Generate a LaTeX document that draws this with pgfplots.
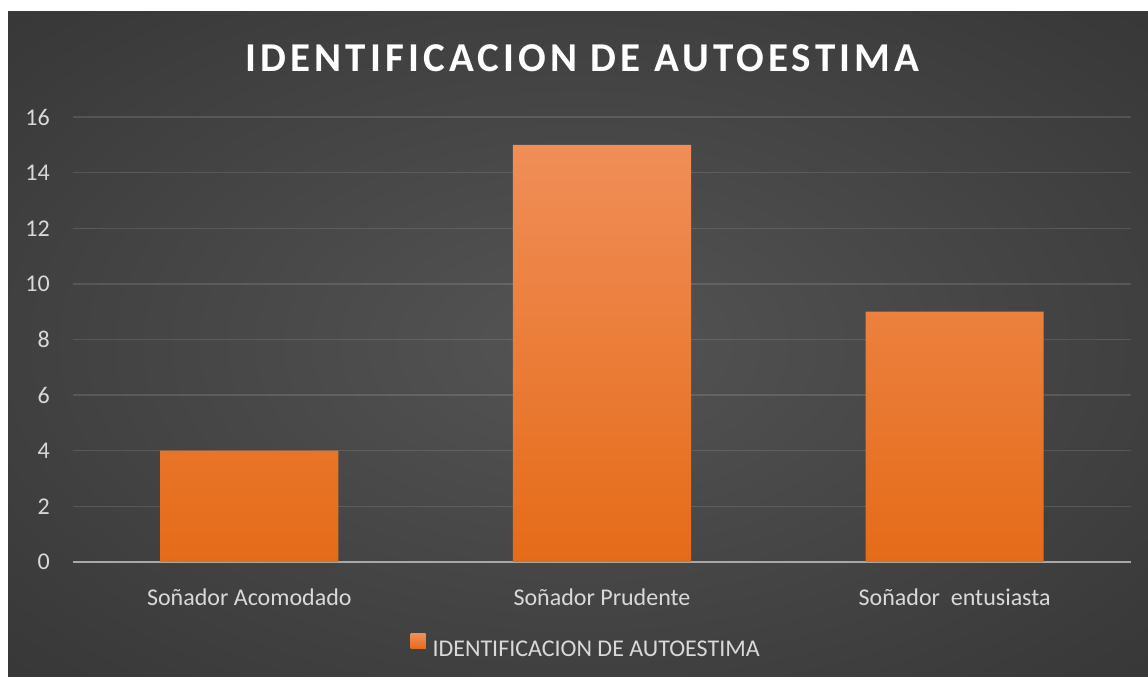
\documentclass[border=0pt]{standalone}
\usepackage{fontspec}
\setmainfont{Carlito}
\usepackage{pgfplots}
\pgfplotsset{compat=1.18}

\definecolor{barTop}{HTML}{F08E58}
\definecolor{barMid}{HTML}{F57E2B}
\definecolor{barBot}{HTML}{E56B18}
\definecolor{tickc}{HTML}{D9D9D9}
\definecolor{axisc}{HTML}{A8A8A8}
\definecolor{bgA}{HTML}{545454}
\definecolor{bgB}{HTML}{3A3A3A}
\definecolor{bgC}{HTML}{202020}
\pgfdeclareradialshading{bgshade}{\pgfpoint{0bp}{0bp}}{color(0bp)=(bgA); color(32bp)=(bgB); color(71bp)=(bgC)}

\begin{document}
\begin{tikzpicture}[x=1pt,y=1pt]
\useasboundingbox (0,0) rectangle (1148,677);
\fill[white] (0,0) rectangle (1148,677);
\shade[shading=bgshade] (8,0) rectangle (1148,665);
\begin{axis}[
  at={(73pt,115pt)}, anchor=south west,
  scale only axis, width=1058pt, height=445pt,
  xmin=-0.5, xmax=2.5, ymin=0, ymax=16,
  ytick={0,2,...,16},
  xtick={0,1,2},
  xticklabels={Soñador Acomodado, Soñador Prudente, Soñador~ entusiasta},
  axis lines*=left,
  x axis line style={draw=axisc, line width=2pt},
  y axis line style={draw=none},
  tick style={draw=none},
  ymajorgrids,
  grid style={white, opacity=0.12, line width=1.4pt},
  /pgf/number format/assume math mode=true,
  tick label style={text=tickc, font=\fontsize{24}{28}\selectfont},
  yticklabel style={anchor=east, inner sep=0pt, xshift=-23pt},
  xticklabel style={anchor=base, inner sep=0pt, yshift=-39pt},
  ybar, bar width=178pt,
  legend style={at={(0.485,-0.191)}, anchor=center, draw=none, fill=none,
    text=tickc, font=\fontsize{24}{28}\selectfont,
    /tikz/every odd column/.append style={column sep=5pt}},
  legend image code/.code={\fill[barMid] (0pt,0.5pt) rectangle (15pt,15.5pt);},
]
\addplot[draw=none, top color=barTop, middle color=barMid, bottom color=barBot]
  coordinates {(0,4) (1,15) (2,9)};
\addlegendentry{IDENTIFICACION DE AUTOESTIMA}
\end{axis}
\node[anchor=base, text=white, inner sep=0pt,
  font={\fontsize{41}{47}\selectfont\bfseries\addfontfeatures{LetterSpace=10}}]
  at (582.5,605) {IDENTIFICACION DE AUTOESTIMA};
\end{tikzpicture}
\end{document}
